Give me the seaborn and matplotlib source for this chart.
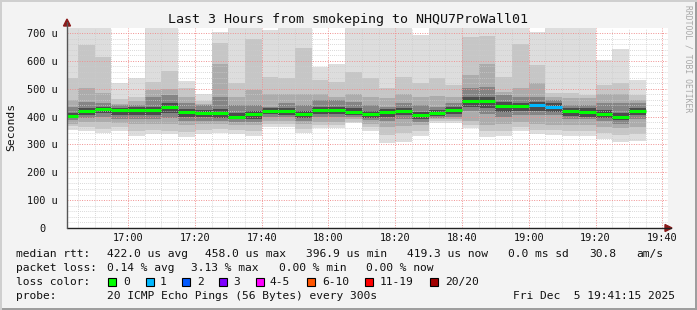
import matplotlib
matplotlib.use("Agg")
import matplotlib.pyplot as plt
import seaborn as sns
import numpy as np
import pandas as pd
from matplotlib.patches import Rectangle, Polygon
from matplotlib.lines import Line2D
from matplotlib.ticker import FixedLocator, FixedFormatter

# ---------------- data ----------------
title = "Last 3 Hours from smokeping to NHQU7ProWall01"
# bar end times (5-minute steps), minutes after 16:00; first bar starts at window start
bar_end = list(range(45, 216, 5))          # 16:45 ... 19:35
window = (41.7, 221.7)                     # 16:41:42 -> 19:41:42

median = [403, 420, 426, 424, 424, 424, 436, 418, 412, 412, 399, 408, 420, 420, 408, 424, 424, 418,
          408, 415, 421, 406, 412, 424, 457, 457, 439, 437, 441, 436, 420, 418, 409, 397, 419]
loss = [0] * 28 + [1, 1] + [0] * 5
smoke_max = [718, 718, 718, 519, 537, 718, 718, 528, 482, 703, 718, 718, 710, 718, 718, 578, 590, 718,
             718, 718, 718, 693, 718, 718, 718, 718, 718, 718, 702, 718, 718, 718, 603, 644, 531]
up2 = [537, 657, 615, 462, 471, 525, 564, 502, 456, 664, 519, 678, 543, 537, 645, 531, 525, 561,
       540, 502, 543, 519, 537, 513, 687, 689, 543, 661, 585, 484, 484, 477, 513, 519, 477]
up3 = [460, 502, 484, 445, 455, 495, 500, 470, 445, 590, 470, 495, 480, 480, 480, 480, 470, 480,
       470, 466, 480, 470, 475, 470, 549, 588, 490, 502, 520, 470, 465, 465, 480, 480, 460]
up4 = [436, 453, 448, 442, 442, 471, 477, 448, 442, 471, 442, 442, 436, 448, 442, 460, 460, 453,
       442, 436, 448, 442, 436, 448, 501, 507, 477, 471, 471, 460, 442, 442, 448, 448, 448]
up5 = [414, 432, 436, 432, 434, 436, 448, 428, 422, 426, 412, 420, 430, 432, 420, 436, 434, 430,
       420, 426, 432, 418, 424, 434, 470, 472, 452, 450, 452, 448, 432, 430, 422, 412, 430]
lo5 = [394, 405, 412, 405, 406, 406, 414, 400, 398, 396, 390, 392, 408, 406, 396, 408, 408, 406,
       396, 398, 404, 392, 402, 410, 436, 430, 418, 420, 420, 418, 402, 400, 396, 386, 404]
lo4 = [388, 395, 400, 392, 392, 392, 395, 385, 385, 385, 380, 382, 398, 398, 385, 398, 398, 400,
       388, 385, 390, 382, 395, 400, 420, 410, 400, 405, 405, 405, 392, 390, 385, 375, 392]
lo3 = [375, 380, 380, 378, 372, 372, 375, 368, 372, 372, 368, 368, 385, 385, 372, 382, 382, 390,
       375, 362, 365, 370, 390, 392, 385, 370, 372, 380, 372, 370, 368, 368, 362, 358, 362]
lo2 = [365, 362, 355, 362, 350, 352, 350, 345, 352, 356, 352, 350, 372, 372, 356, 368, 368, 382,
       362, 335, 340, 350, 384, 384, 370, 348, 350, 362, 352, 352, 350, 350, 340, 335, 338]
smoke_min = [352, 348, 340, 348, 332, 336, 336, 328, 336, 342, 336, 332, 364, 364, 342, 358, 358, 376,
             348, 306, 310, 332, 376, 376, 358, 328, 332, 349, 337, 335, 332, 332, 320, 310, 313]

y_ticks = [0, 100, 200, 300, 400, 500, 600, 700]
y_labels = ["0  ", "100 u", "200 u", "300 u", "400 u", "500 u", "600 u", "700 u"]
x_ticks = [60, 80, 100, 120, 140, 160, 180, 200, 220]
x_labels = ["17:00", "17:20", "17:40", "18:00", "18:20", "18:40", "19:00", "19:20", "19:40"]

legend_rows = [
    [(16, "median rtt:"), (107, "422.0 us avg"), (205, "458.0 us max"), (306, "396.9 us min"),
     (407, "419.3 us now"), (508, "0.0 ms sd"), (589, "30.8"), (636, "am/s")],
    [(16, "packet loss:"), (107, "0.14 % avg"), (191, "3.13 % max"), (279, "0.00 % min"),
     (366, "0.00 % now")],
    [(16, "loss color:")],
    [(16, "probe:"), (107, "20 ICMP Echo Pings (56 Bytes) every 300s"), (513, "Fri Dec  5 19:41:15 2025")],
]
loss_names = ["0", "1", "2", "3", "4-5", "6-10", "11-19", "20/20"]
loss_colors = ["#00ff00", "#00b8ff", "#0059ff", "#7e00ff", "#ff00ff", "#ff5500", "#ff0000", "#a10000"]
loss_box_x = [108, 146, 182, 219, 256, 307, 365, 430]
loss_label_x = [123, 160, 197, 233, 270, 322, 380, 445]

# ---------------- figure ----------------
W, H = 697, 310
sns.set_theme(style="white")
plt.rcParams["font.family"] = ["DejaVu Sans Mono", "DejaVu Sans"]

fig = plt.figure(figsize=(W / 100, H / 100), dpi=100, facecolor="#f3f3f3")

def fx(x):
    return x / W

def fy(y):
    return 1 - y / H

L, R, T, B = 67, 668, 28, 228
ax = fig.add_axes([fx(L), fy(B), (R - L) / W, (B - T) / H])
ax.set_facecolor("white")

starts = [window[0]] + bar_end[:-1]
widths = [e - s for s, e in zip(starts, bar_end)]

layers = [(smoke_min, smoke_max, "#dddddd"),
          (lo2, up2, "#c6c6c6"),
          (lo3, up3, "#acacac"),
          (lo4, up4, "#858585"),
          (lo5, up5, "#4c4c4c")]
for lo, hi, col in layers:
    ax.bar(starts, np.array(hi) - np.array(lo), bottom=lo, width=widths, align="edge",
           color=col, linewidth=0, zorder=1)

# median segments, coloured by loss
rows = []
for i, (s, e, m, l) in enumerate(zip(starts, bar_end, median, loss)):
    rows.append({"x": s, "y": m, "bar": i, "loss": loss_names[l]})
    rows.append({"x": e, "y": m, "bar": i, "loss": loss_names[l]})
df = pd.DataFrame(rows)
pal = {n: c for n, c in zip(loss_names, loss_colors)}
sns.lineplot(data=df, x="x", y="y", units="bar", estimator=None, hue="loss", palette=pal,
             legend=False, linewidth=2.2, ax=ax, zorder=4, solid_capstyle="butt")

ax.set_xlim(*window)
ax.set_ylim(0, 718)
ax.set_xlabel("")
ax.set_ylabel("")

ax.xaxis.set_major_locator(FixedLocator(x_ticks))
ax.xaxis.set_major_formatter(FixedFormatter(x_labels))
ax.xaxis.set_minor_locator(FixedLocator(list(range(45, 222, 5))))
ax.yaxis.set_major_locator(FixedLocator(y_ticks))
ax.yaxis.set_major_formatter(FixedFormatter(y_labels))
ax.yaxis.set_minor_locator(FixedLocator(list(range(20, 718, 20))))
ax.tick_params(which="both", length=0)
ax.tick_params(axis="x", pad=3.5, labelsize=7.4, labelcolor="#111111")
ax.tick_params(axis="y", pad=6.5, labelsize=7.4, labelcolor="#111111")

ax.set_axisbelow(False)
ax.grid(which="minor", color="#cccccc", linestyle=(0, (1, 1.5)), linewidth=0.6, zorder=2)
ax.grid(which="major", color="#f09090", linestyle=(0, (1, 1.5)), linewidth=0.7, zorder=2)
for sp in ax.spines.values():
    sp.set_visible(False)

# axis lines with arrows
fig.add_artist(Line2D([fx(L), fx(671)], [fy(B), fy(B)], color="#222222", lw=1.0))
fig.add_artist(Line2D([fx(L), fx(L)], [fy(B), fy(22)], color="#555555", lw=1.0))
fig.add_artist(Polygon([[fx(665), fy(224.5)], [fx(672), fy(228)], [fx(665), fy(231.5)]],
                       closed=True, transform=fig.transFigure, color="#8b1a1a"))
fig.add_artist(Polygon([[fx(63.5), fy(26)], [fx(67), fy(19)], [fx(70.5), fy(26)]],
                       closed=True, transform=fig.transFigure, color="#8b1a1a"))

# title, y label, watermark
fig.text(fx(348), fy(19), title, ha="center", va="center", fontsize=9.6, color="#111111")
fig.text(fx(11), fy(127), "Seconds", ha="center", va="center", rotation=90, fontsize=8.2,
         color="#111111")
fig.text(fx(688), fy(5), "RRDTOOL / TOBI OETIKER", ha="center", va="top", rotation=-90,
         fontsize=5.8, color="#a8a8a8")

# legend rows
row_y = [254, 268, 282, 296]
for ry, row in zip(row_y, legend_rows):
    for x, txt in row:
        fig.text(fx(x), fy(ry), txt, ha="left", va="center", fontsize=8.1, color="#111111")
for bx, lx, name, col in zip(loss_box_x, loss_label_x, loss_names, loss_colors):
    fig.add_artist(Rectangle((fx(bx), fy(286)), 8 / W, 8 / H, transform=fig.transFigure,
                             facecolor=col, edgecolor="black", lw=0.8))
    fig.text(fx(lx), fy(282), name, ha="left", va="center", fontsize=8.1, color="#111111")

# frame shading
fig.add_artist(Rectangle((0, 0), 1, 2 / H, transform=fig.transFigure, facecolor="#9e9e9e", lw=0))
fig.add_artist(Rectangle((1 - 2 / W, 0), 2 / W, 1, transform=fig.transFigure, facecolor="#9e9e9e", lw=0))
fig.add_artist(Rectangle((0, 1 - 2 / H), 1, 2 / H, transform=fig.transFigure, facecolor="#cfcfcf", lw=0))
fig.add_artist(Rectangle((0, 0), 2 / W, 1, transform=fig.transFigure, facecolor="#cfcfcf", lw=0))

fig.savefig("out.png", dpi=100, facecolor=fig.get_facecolor())
